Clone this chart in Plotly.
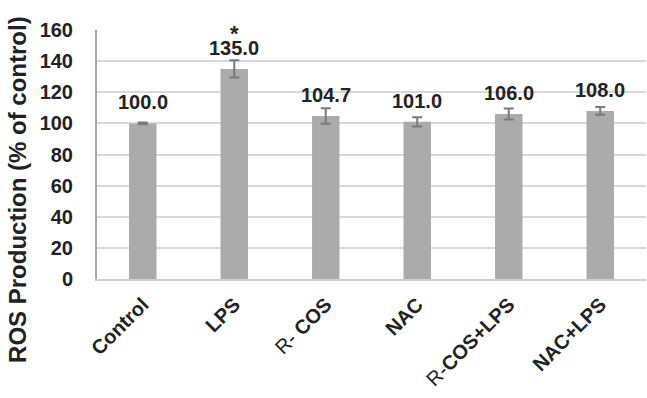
import plotly.graph_objects as go

categories = ["Control", "LPS", "R- COS", "NAC", "R-COS+LPS", "NAC+LPS"]
tick_labels = ["<b>Control</b>", "<b>LPS</b>", "R- <b>COS</b>", "<b>NAC</b>", "R-<b>COS+LPS</b>", "<b>NAC+LPS</b>"]
values = [100.0, 135.0, 104.7, 101.0, 106.0, 108.0]
errors = [0.5, 5.5, 5.0, 3.0, 3.5, 2.5]
value_labels = ["100.0", "135.0", "104.7", "101.0", "106.0", "108.0"]
significance = ["", "*", "", "", "", ""]
y_ticks = [0, 20, 40, 60, 80, 100, 120, 140, 160]

FONT = "Liberation Sans, Arial"

fig = go.Figure()
fig.add_trace(go.Bar(
    x=categories, y=values,
    marker=dict(color="#ABABAB", line=dict(width=0)),
    width=0.3,
    error_y=dict(type="data", array=errors, visible=True, color="#7A7A7A", thickness=2, width=5),
))

for c, v, lab, s in zip(categories, values, value_labels, significance):
    fig.add_annotation(x=c, y=v, text="<b>%s</b>" % lab, showarrow=False,
                       yanchor="middle", yshift=21,
                       font=dict(family=FONT, size=20, color="#222222"))
    if s:
        fig.add_annotation(x=c, y=v, text="<b>%s</b>" % s, showarrow=False,
                           yanchor="middle", yshift=35,
                           font=dict(family=FONT, size=22, color="#222222"))

fig.add_annotation(xref="paper", yref="paper", x=-0.146, y=0.361, text="<b>ROS Production (% of control)</b>",
                   textangle=-90, showarrow=False, xanchor="center", yanchor="middle",
                   font=dict(family=FONT, size=24, color="#222222"))

fig.update_layout(
    width=647, height=398,
    margin=dict(l=97, r=1, t=30, b=119),
    paper_bgcolor="white", plot_bgcolor="white",
    showlegend=False,
    bargap=0.7,
    font=dict(family=FONT, color="#222222"),
)
fig.update_xaxes(
    tickmode="array", tickvals=categories, ticktext=tick_labels,
    tickangle=-45, tickfont=dict(size=20, color="#222222"),
    showline=True, linecolor="#D0D0D0", linewidth=2, ticks="",
    showgrid=False, ticklabelstandoff=4,
)
fig.update_yaxes(
    range=[0, 160], tickvals=y_ticks,
    tickfont=dict(size=20, color="#222222"),
    ticktext=["<b>%d</b>" % t for t in y_ticks], tickmode="array",
    showgrid=True, gridcolor="#D9D9D9", gridwidth=1.5,
    showline=True, linecolor="#A8A8A8", linewidth=2,
    zeroline=False, ticks="", ticklabelstandoff=18,
)

fig.write_html("out.html")
